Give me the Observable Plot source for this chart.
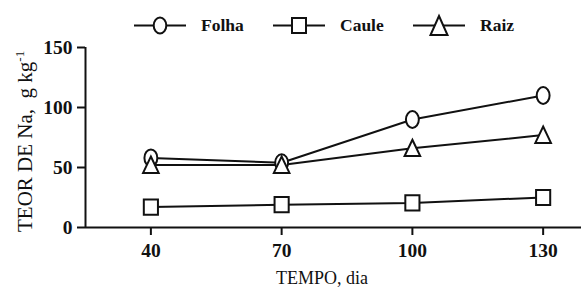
<!DOCTYPE html>
<html><head><meta charset="utf-8">
<script src="https://cdn.jsdelivr.net/npm/d3@7"></script>
<script src="https://cdn.jsdelivr.net/npm/@observablehq/plot@0.6"></script>
<style>
body{margin:0;background:#fff;}
#wrap{position:relative;width:581px;height:291px;font-family:'Liberation Serif','Times New Roman',serif;}
#legend{position:absolute;top:0;left:0;width:581px;height:45px;font-family:'Liberation Serif','Times New Roman',serif;font-weight:bold;font-size:17.5px;color:#111;}
#legend .it{position:absolute;top:12px;height:27px;display:flex;align-items:center;}
#legend svg{margin-right:15px;display:block;}
</style></head>
<body><div id="wrap"><div id="legend"></div></div>
<script>
const dias = [40, 70, 100, 130];
const folha = [58, 54, 90, 110];
const caule = [17, 19, 20.5, 25];
const raiz = [52, 52, 66, 77];
const seriesNames = ["Folha", "Caule", "Raiz"];
const symbols = ["circle", "square", "triangle"];
const yTicks = [0, 50, 100, 150];
const FONT = "'Liberation Serif', 'Times New Roman', serif";

const values = [folha, caule, raiz];
const data = [];
seriesNames.forEach((s, i) => dias.forEach((d, j) => data.push({serie: s, dia: d, teor: values[i][j]})));

// slightly tall symbols, as in the original figure
const K = 0.5523;
function ellipsePath(ctx, rx, ry) {
  ctx.moveTo(rx, 0);
  ctx.bezierCurveTo(rx, ry * K, rx * K, ry, 0, ry);
  ctx.bezierCurveTo(-rx * K, ry, -rx, ry * K, -rx, 0);
  ctx.bezierCurveTo(-rx, -ry * K, -rx * K, -ry, 0, -ry);
  ctx.bezierCurveTo(rx * K, -ry, rx, -ry * K, rx, 0);
  ctx.closePath();
}
const ell = {draw(ctx, size) { const r = Math.sqrt(size / Math.PI); ellipsePath(ctx, r * 0.86, r * 1.12); }};
const sq = {draw(ctx, size) { const r = Math.sqrt(size / Math.PI); ctx.rect(-r * 0.93, -r, r * 1.86, r * 2); }};
const tri = {draw(ctx, size) { const r = Math.sqrt(size / Math.PI); ctx.moveTo(0, -r * 1.1); ctx.lineTo(r, r * 1.0); ctx.lineTo(-r, r * 1.0); ctx.closePath(); }};
const symObj = {circle: ell, square: sq, triangle: tri};
const symR = {circle: 7.5, square: 7.6, triangle: 7.8};

const marks = [
  Plot.ruleY([0], {x1: 25, x2: 140, stroke: "#111", strokeWidth: 2}),
  Plot.ruleX([25], {y1: 0, y2: 150, stroke: "#111", strokeWidth: 2}),
  Plot.axisX({ticks: dias, tickSize: 8, tickPadding: 8, fontSize: 19.5, fontWeight: "bold", stroke: "#111", strokeWidth: 2, label: null, tickFormat: d => d}),
  Plot.axisY({ticks: yTicks, tickSize: 8, tickPadding: 5, fontSize: 19.5, fontWeight: "bold", stroke: "#111", strokeWidth: 2, label: null}),
  Plot.line(data, {x: "dia", y: "teor", z: "serie", stroke: "#111", strokeWidth: 2}),
];
seriesNames.forEach((s, i) => {
  const sub = data.filter(d => d.serie === s);
  marks.push(Plot.dot(sub, {x: "dia", y: "teor", symbol: () => symObj[symbols[i]], r: symR[symbols[i]], fill: "white", stroke: "#111", strokeWidth: 2}));
});

const chart = Plot.plot({
  width: 581, height: 291,
  marginLeft: 85, marginRight: 0, marginTop: 47, marginBottom: 64,
  style: {color: "#111", background: "white", overflow: "visible"},
  x: {domain: [25, 138.8], axis: null},
  y: {domain: [0, 150], axis: null},
  symbol: {type: "identity"},
  marks
});
const wrap = document.getElementById("wrap");
wrap.appendChild(chart);

const svg = d3.select(chart);
svg.style("font-family", FONT);
const yl = svg.append("text")
  .attr("transform", "translate(32,232) rotate(-90)")
  .attr("text-anchor", "start")
  .attr("font-size", 21)
  .attr("fill", "#111");
yl.append("tspan").text("TEOR DE Na,  g kg");
yl.append("tspan").attr("font-size", 13).attr("dy", -8).text("-1");
svg.append("text").attr("x", 322).attr("y", 284).attr("text-anchor", "middle")
  .attr("font-size", 18).attr("fill", "#111").text("TEMPO, dia");
svg.selectAll("text").style("font-family", FONT);

// legend
const leg = d3.select("#legend");
const legLeft = [134, 273, 413];
const symPaths = {
  circle: g => g.append("ellipse").attr("cx", 26).attr("cy", 13.5).attr("rx", 6.3).attr("ry", 8),
  square: g => g.append("rect").attr("x", 19).attr("y", 6).attr("width", 14).attr("height", 15),
  triangle: g => g.append("path").attr("d", "M26,4 L34.5,23 L17.5,23 Z"),
};
seriesNames.forEach((s, i) => {
  const it = leg.append("div").attr("class", "it").style("left", legLeft[i] + "px");
  const g = it.append("svg").attr("width", 52).attr("height", 27);
  g.append("line").attr("x1", 0).attr("x2", 52).attr("y1", 13.5).attr("y2", 13.5).attr("stroke", "#111").attr("stroke-width", 2);
  symPaths[symbols[i]](g).attr("fill", "white").attr("stroke", "#111").attr("stroke-width", 2);
  it.append("span").text(s);
});
</script></body></html>
